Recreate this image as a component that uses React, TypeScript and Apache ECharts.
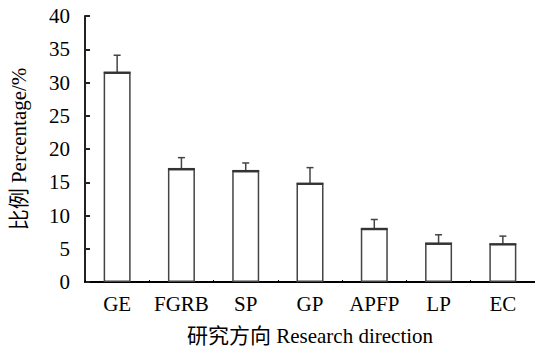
import React, { useEffect, useRef } from "react";
import * as echarts from "echarts";

const categories = ["GE", "FGRB", "SP", "GP", "APFP", "LP", "EC"];
const percentages = [31.5, 17.0, 16.7, 14.8, 8.0, 5.8, 5.7];
const errorTops = [34.1, 18.7, 17.9, 17.2, 9.4, 7.1, 6.9];
const yTicks = [0, 5, 10, 15, 20, 25, 30, 35, 40];

const FONT = "'Liberation Serif', 'Times New Roman', 'Noto Sans CJK SC', serif";

export default function App() {
  const ref = useRef<HTMLDivElement>(null);
  useEffect(() => {
    if (!ref.current) return;
    const chart = echarts.init(ref.current, null, { renderer: "svg" });
    const errData = categories.map((_, i) => [i, percentages[i], errorTops[i]]);
    chart.setOption({
      animation: false,
      backgroundColor: "#fff",
      grid: { left: 84, top: 16, width: 456, height: 266, containLabel: false },
      xAxis: {
        type: "category",
        data: categories,
        name: "研究方向 Research direction",
        nameLocation: "middle",
        nameGap: 43,
        nameTextStyle: { fontFamily: FONT, fontSize: 21, color: "#000" },
        axisLine: { lineStyle: { color: "#000", width: 2 } },
        axisTick: { show: true, inside: true, length: 2, lineStyle: { color: "#000", width: 1 } },
        axisLabel: { fontFamily: FONT, fontSize: 21, color: "#000", margin: 11, interval: 0, hideOverlap: false },
      },
      yAxis: {
        type: "value",
        min: yTicks[0],
        max: yTicks[yTicks.length - 1],
        interval: 5,
        name: "比例 Percentage/%",
        nameLocation: "middle",
        nameGap: 56,
        nameRotate: 90,
        nameTextStyle: { fontFamily: FONT, fontSize: 21, color: "#000" },
        axisLine: { show: true, lineStyle: { color: "#222", width: 2 } },
        axisTick: { show: true, inside: true, length: 5, lineStyle: { color: "#222", width: 2 } },
        axisLabel: { fontFamily: FONT, fontSize: 21, color: "#000", margin: 15 },
        splitLine: { show: false },
      },
      series: [
        {
          type: "bar",
          data: percentages,
          barWidth: 27,
          itemStyle: { color: "#fff", borderColor: "#444", borderWidth: 1.5 },
          z: 2,
        },
        {
          type: "custom",
          data: errData,
          z: 3,
          renderItem: (params: any, api: any) => {
            const i = api.value(0);
            const base = api.coord([i, api.value(1)]);
            const top = api.coord([i, api.value(2)]);
            const cap = 3.5;
            return {
              type: "group",
              children: [
                {
                  type: "line",
                  shape: { x1: base[0], y1: base[1], x2: base[0], y2: top[1] },
                  style: { stroke: "#444", lineWidth: 1.5 },
                },
                {
                  type: "line",
                  shape: { x1: base[0] - cap, y1: top[1], x2: base[0] + cap, y2: top[1] },
                  style: { stroke: "#444", lineWidth: 1.5 },
                },
                {
                  type: "line",
                  shape: { x1: base[0] - 13.5, y1: base[1], x2: base[0] + 13.5, y2: base[1] },
                  style: { stroke: "#333", lineWidth: 2 },
                },
              ],
            };
          },
        },
      ],
    });
    return () => chart.dispose();
  }, []);
  return (
    <div
      ref={ref}
      style={{ position: "absolute", left: 0, top: 0, width: 535, height: 354 }}
    />
  );
}
